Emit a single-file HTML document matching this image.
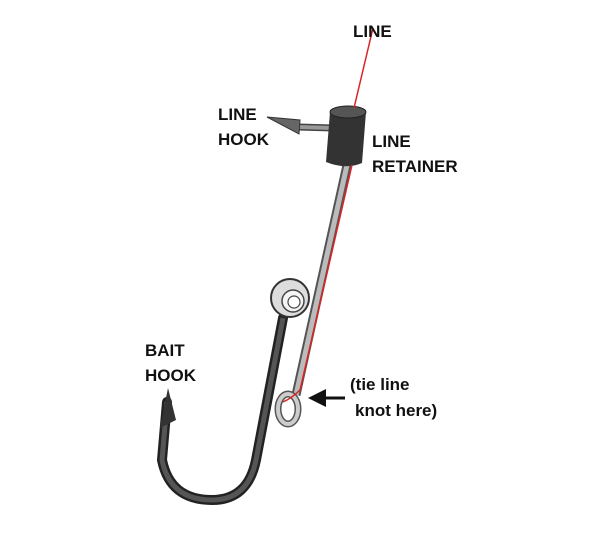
<!DOCTYPE html>
<html><head><style>
body{margin:0;background:#fff;width:600px;height:533px;overflow:hidden}
svg{display:block}
text{font-family:"Liberation Sans",sans-serif;font-weight:bold;font-size:17px;fill:#111}
</style></head><body>
<svg width="600" height="533" viewBox="0 0 600 533">
<!-- bait hook -->
<path d="M283,318 L256,460 Q248,500 212,500 Q170,500 162,460 L167,402" fill="none" stroke="#222" stroke-width="10" stroke-linecap="round"/>
<path d="M283,318 L256,460 Q248,500 212,500 Q170,500 162,460 L167,402" fill="none" stroke="#555" stroke-width="5"/>
<path d="M168,388 L160,428 L176,420 Z" fill="#333"/>
<!-- rod -->
<line x1="347" y1="165" x2="296" y2="395" stroke="#555" stroke-width="9"/>
<line x1="347" y1="165" x2="296" y2="395" stroke="#bbb" stroke-width="5"/>
<!-- eye -->
<ellipse cx="288" cy="409" rx="10" ry="15" fill="none" stroke="#555" stroke-width="7"/>
<ellipse cx="288" cy="409" rx="10" ry="15" fill="none" stroke="#ccc" stroke-width="4"/>
<!-- ball -->
<circle cx="290" cy="298" r="19" fill="#ddd" stroke="#333" stroke-width="2"/>
<circle cx="293" cy="301" r="11" fill="#f4f4f4" stroke="#444" stroke-width="1.5"/>
<circle cx="294" cy="302" r="6" fill="#fff" stroke="#444" stroke-width="1.2"/>
<!-- line hook -->
<line x1="298" y1="127" x2="333" y2="128" stroke="#444" stroke-width="7"/>
<line x1="298" y1="127" x2="333" y2="128" stroke="#999" stroke-width="4"/>
<path d="M267,117 L300,120 L299,134 Z" fill="#666" stroke="#333" stroke-width="1"/>
<!-- retainer -->
<path d="M330,112 L366,112 L362,163 Q346,170 326,162 Z" fill="#333"/>
<ellipse cx="348" cy="112" rx="18" ry="6" fill="#555" stroke="#222"/>
<!-- red line -->
<path d="M373,28 L354,108 M352,165 L300,390" stroke="#d22" stroke-width="1.5" fill="none"/>
<path d="M300,390 Q292,398 283,402" stroke="#d22" stroke-width="1.5" fill="none"/>
<!-- arrow -->
<line x1="345" y1="398" x2="322" y2="398" stroke="#111" stroke-width="3"/>
<path d="M308,398 L326,389 L326,407 Z" fill="#111"/>
<text x="353" y="37">LINE</text>
<text x="218" y="120">LINE</text>
<text x="218" y="145">HOOK</text>
<text x="372" y="147">LINE</text>
<text x="372" y="172">RETAINER</text>
<text x="145" y="356">BAIT</text>
<text x="145" y="381">HOOK</text>
<text x="350" y="390">(tie line</text>
<text x="355" y="416">knot here)</text>
</svg>
</body></html>
